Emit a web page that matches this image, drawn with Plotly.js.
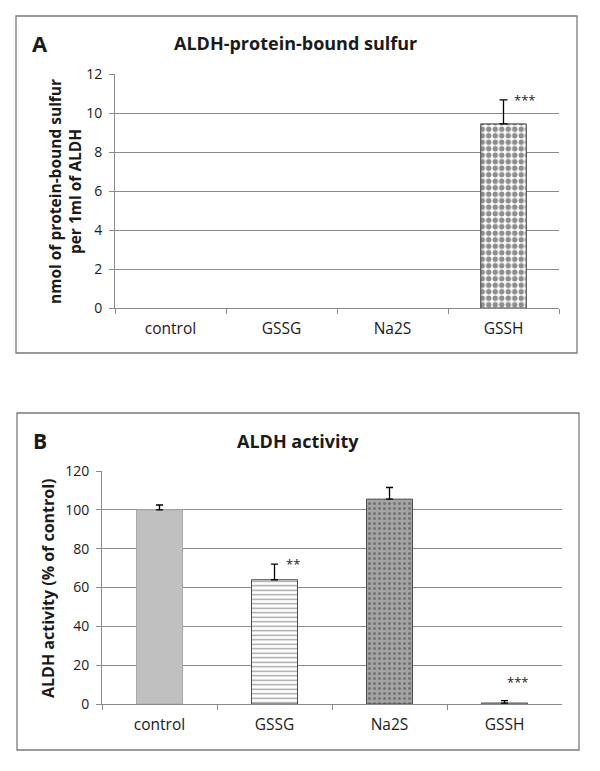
<!DOCTYPE html>
<html>
<head>
<meta charset="utf-8">
<script src="https://cdn.plot.ly/plotly-3.0.1.min.js"></script>
<style>html,body{margin:0;padding:0;background:#fff}#chart{width:600px;height:771px}</style>
</head>
<body>
<div id="chart"></div>
<script>
// ---- data ----
const categories = ["control", "GSSG", "Na2S", "GSSH"];
// Panel A: ALDH-protein-bound sulfur (nmol per 1 ml of ALDH)
const sulfurValues = [0, 0, 0, 9.44];
const sulfurErrors = [null, null, null, 1.23];
const sulfurStars = ["", "", "", "***"];
// Panel B: ALDH activity (% of control)
const activityValues = [100, 64, 105.5, 0.5];
const activityErrors = [2.5, 8, 6, 1.2];
const activityStars = ["", "**", "", "***"];
const yTicksA = [0, 2, 4, 6, 8, 10, 12];
const yTicksB = [0, 20, 40, 60, 80, 100, 120];

const FONT = "'Open Sans', sans-serif";
const GRID = "#8a8a8a";
const TXT = "#1a1a1a";

const nanIfNull = arr => arr.map(v => (v == null ? NaN : v));
const minusZero = arr => arr.map(v => (v == null ? NaN : 0));

const traces = [
  {
    type: "bar", x: categories, y: sulfurValues, xaxis: "x", yaxis: "y",
    width: 0.41,
    marker: {
      color: "#ffffff",
      line: { color: "#3a3a3a", width: sulfurValues.map(v => (v > 0 ? 1 : 0)) },
      pattern: { shape: sulfurValues.map(v => (v > 0 ? "." : "")), fgcolor: "#1e1e1e", bgcolor: "#ffffff", size: 6.5, solidity: 0.55, fillmode: "overlay" }
    },
    error_y: { type: "data", symmetric: false, array: nanIfNull(sulfurErrors), arrayminus: minusZero(sulfurErrors), color: "#000", thickness: 1.3, width: 4 },
    hoverinfo: "x+y"
  },
  {
    type: "bar", x: categories, y: activityValues, xaxis: "x2", yaxis: "y2",
    width: 0.40,
    marker: {
      color: ["#c0c0c0", "#ffffff", "#a4a4a4", "#ffffff"],
      line: { color: ["#a8a8a8", "#4a4a4a", "#4a4a4a", "#4a4a4a"], width: 1 },
      pattern: {
        shape: ["", "-", ".", ""],
        fgcolor: ["#c0c0c0", "#8a8a8a", "#ffffff", "#ffffff"],
        bgcolor: ["#c0c0c0", "#ffffff", "#a4a4a4", "#ffffff"],
        size: [6, 4.5, 5, 6], solidity: [0.3, 0.3, 0.3, 0.3], fillmode: "overlay"
      }
    },
    error_y: { type: "data", symmetric: false, array: activityErrors, arrayminus: activityErrors.map(() => 0), color: "#000", thickness: 1.3, width: 3.5 },
    hoverinfo: "x+y"
  }
];

function starAnn(xref, yref, vals, errs, stars, xshifts, yshifts) {
  const out = [];
  stars.forEach((s, i) => {
    if (!s) return;
    out.push({
      xref: xref, yref: yref, x: categories[i], y: vals[i] + (errs[i] || 0),
      text: s, showarrow: false, xshift: xshifts[i], yshift: yshifts[i],
      font: { family: FONT, size: 13, color: TXT }
    });
  });
  return out;
}

const yAxisBase = {
  showgrid: true, gridcolor: GRID, gridwidth: 1,
  showline: true, linecolor: GRID, linewidth: 1,
  ticks: "outside", ticklen: 5, tickcolor: GRID,
  zeroline: false, tickfont: { family: FONT, size: 14, color: TXT },
  ticklabelstandoff: 4, fixedrange: true
};
const xAxisBase = {
  showline: true, linecolor: GRID, linewidth: 1,
  ticks: "outside", ticklen: 5, tickcolor: GRID, tickson: "boundaries",
  showgrid: false, tickfont: { family: FONT, size: 15.5, color: TXT },
  ticklabelstandoff: 6, fixedrange: true
};

const layout = {
  width: 600, height: 771,
  margin: { l: 0, r: 0, t: 0, b: 0 },
  paper_bgcolor: "#ffffff", plot_bgcolor: "rgba(0,0,0,0)",
  showlegend: false,
  bargap: 0.6,
  xaxis: Object.assign({}, xAxisBase, { domain: [115/600, 559/600], anchor: "y", categoryorder: "array", categoryarray: categories }),
  yaxis: Object.assign({}, yAxisBase, { domain: [1 - 308/771, 1 - 74/771], anchor: "x", range: [0, 12], tickvals: yTicksA }),
  xaxis2: Object.assign({}, xAxisBase, { domain: [102/600, 562/600], anchor: "y2", categoryorder: "array", categoryarray: categories }),
  yaxis2: Object.assign({}, yAxisBase, { domain: [1 - 704/771, 1 - 471/771], anchor: "x2", range: [0, 120], tickvals: yTicksB }),
  shapes: [
    { type: "rect", xref: "paper", yref: "paper", x0: 16/600, x1: 577/600, y0: 1 - 353/771, y1: 1 - 16/771, line: { color: "#7a7a7a", width: 1.3 } },
    { type: "rect", xref: "paper", yref: "paper", x0: 17/600, x1: 579/600, y0: 1 - 750/771, y1: 1 - 413/771, line: { color: "#7a7a7a", width: 1.3 } }
  ],
  annotations: [
    { xref: "paper", yref: "paper", x: 40/600, y: 1 - 43/771, text: "<b>A</b>", showarrow: false, xanchor: "center", yanchor: "middle", font: { family: FONT, size: 22, color: TXT } },
    { xref: "paper", yref: "paper", x: 295/600, y: 1 - 43/771, text: "<b>ALDH-protein-bound sulfur</b>", showarrow: false, xanchor: "center", yanchor: "middle", font: { family: FONT, size: 18, color: TXT } },
    { xref: "paper", yref: "paper", x: 65/600, y: 1 - 192/771, text: "<b>nmol of protein-bound sulfur<br>per 1ml of ALDH</b>", textangle: -90, showarrow: false, xanchor: "center", yanchor: "middle", font: { family: FONT, size: 15.5, color: TXT } },
    { xref: "paper", yref: "paper", x: 40/600, y: 1 - 441/771, text: "<b>B</b>", showarrow: false, xanchor: "center", yanchor: "middle", font: { family: FONT, size: 21, color: TXT } },
    { xref: "paper", yref: "paper", x: 298/600, y: 1 - 441/771, text: "<b>ALDH activity</b>", showarrow: false, xanchor: "center", yanchor: "middle", font: { family: FONT, size: 18, color: TXT } },
    { xref: "paper", yref: "paper", x: 48/600, y: 1 - 588/771, text: "<b>ALDH activity (% of control)</b>", textangle: -90, showarrow: false, xanchor: "center", yanchor: "middle", font: { family: FONT, size: 16, color: TXT } }
  ].concat(
    starAnn("x", "y", sulfurValues, sulfurErrors, sulfurStars, [0, 0, 0, 21], [0, 0, 0, 0]),
    starAnn("x2", "y2", activityValues, activityErrors, activityStars, [0, 18, 0, 13], [0, 0, 0, 19])
  )
};

Plotly.newPlot("chart", traces, layout, { staticPlot: true, displayModeBar: false });
</script>
</body>
</html>
